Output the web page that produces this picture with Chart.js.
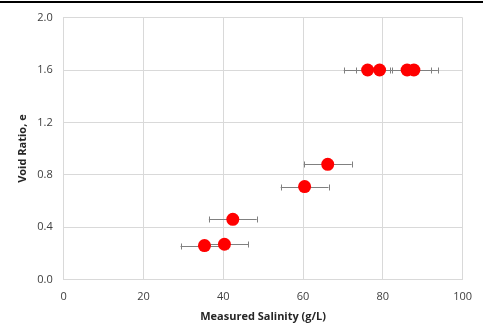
<!DOCTYPE html>
<html>
<head>
<meta charset="utf-8">
<script src="https://cdn.jsdelivr.net/npm/chart.js@4"></script>
<style>
  html, body { margin: 0; padding: 0; background: #fff; }
  #wrap { position: relative; width: 483px; height: 324px; }
  #topline { position: absolute; left: 0; top: 1px; width: 483px; height: 2px; background: #000; }
</style>
</head>
<body>
<div id="wrap">
  <div id="topline"></div>
  <canvas id="myChart" width="483" height="324"></canvas>
</div>
<script>
// measured salinity (g/L) and void ratio for each sample
var salinity = [76.2, 79.2, 86.1, 87.8, 66.2, 60.4, 42.4, 40.3, 35.3];
var voidRatio = [1.6, 1.6, 1.6, 1.6, 0.88, 0.71, 0.46, 0.27, 0.26];
var salinityError = [6, 6, 6, 6, 6, 6, 6, 6, 6];

var xTicks = [0, 20, 40, 60, 80, 100];
var yTicks = [0.0, 0.4, 0.8, 1.2, 1.6, 2.0];

var points = [];
for (var i = 0; i < salinity.length; i++) {
    points.push({ x: salinity[i], y: voidRatio[i] });
}

// horizontal error bars, drawn under the markers
var errorBars = {
    id: 'errorBars',
    beforeDatasetsDraw: function(chart) {
        var ctx = chart.ctx;
        var xs = chart.scales.x, ys = chart.scales.y;
        ctx.save();
        ctx.strokeStyle = '#808080';
        ctx.lineWidth = 1;
        for (var i = 0; i < salinity.length; i++) {
            var x1 = xs.getPixelForValue(salinity[i] - salinityError[i]);
            var x2 = xs.getPixelForValue(salinity[i] + salinityError[i]);
            var y = Math.round(ys.getPixelForValue(voidRatio[i])) + 0.5;
            ctx.beginPath();
            ctx.moveTo(x1, y); ctx.lineTo(x2, y);
            ctx.moveTo(Math.round(x1) + 0.5, y - 3); ctx.lineTo(Math.round(x1) + 0.5, y + 3);
            ctx.moveTo(Math.round(x2) + 0.5, y - 3); ctx.lineTo(Math.round(x2) + 0.5, y + 3);
            ctx.stroke();
        }
        ctx.restore();
    }
};

var ctx = document.getElementById('myChart').getContext('2d');
var myChart = new Chart(ctx, {
    type: 'scatter',
    data: {
        datasets: [{
            data: points,
            backgroundColor: '#ff0000',
            borderColor: '#ff0000',
            borderWidth: 0,
            pointRadius: 6.5,
            pointHoverRadius: 6.5
        }]
    },
    options: {
        responsive: false,
        animation: false,
        layout: { padding: { left: 16, right: 15, top: 11, bottom: 1 } },
        plugins: { legend: { display: false }, tooltip: { enabled: false } },
        scales: {
            x: {
                type: 'linear',
                min: 0, max: 100,
                afterBuildTicks: function(axis) { axis.ticks = xTicks.map(function(v) { return { value: v }; }); },
                grid: { color: '#d9d9d9', drawTicks: false },
                border: { color: '#d9d9d9' },
                ticks: { color: '#404040', padding: 11, font: { family: 'Open Sans', size: 11 } },
                title: { display: true, text: 'Measured Salinity (g/L)', color: '#262626',
                         font: { family: 'Open Sans', size: 11, weight: 'bold' }, padding: { top: -5, bottom: 0 } }
            },
            y: {
                type: 'linear',
                min: 0, max: 2,
                afterBuildTicks: function(axis) { axis.ticks = yTicks.map(function(v) { return { value: v }; }); },
                grid: { color: '#d9d9d9', drawTicks: false },
                border: { color: '#d9d9d9' },
                ticks: { color: '#404040', padding: 11, font: { family: 'Open Sans', size: 11 },
                         callback: function(v) { return Number(v).toFixed(1); } },
                title: { display: true, text: 'Void Ratio, e', color: '#262626',
                         font: { family: 'Open Sans', size: 11, weight: 'bold' }, padding: { top: 0, bottom: -3 } }
            }
        }
    },
    plugins: [errorBars]
});
</script>
</body>
</html>
